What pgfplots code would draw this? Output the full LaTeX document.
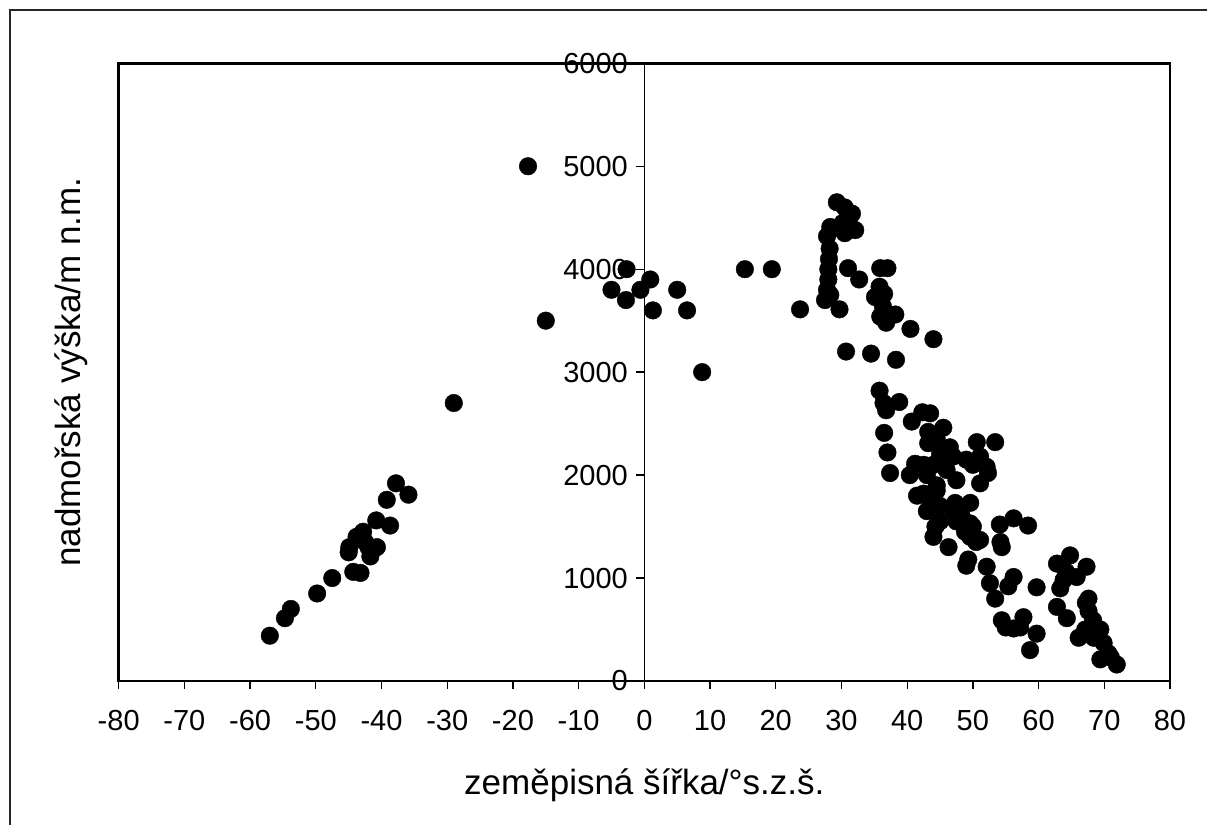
\documentclass[border=0pt]{standalone}
\usepackage{fontspec}
\setmainfont{Liberation Sans}
\usepackage{pgfplots}
\pgfplotsset{compat=1.18}
\newcommand\tlfont{\fontsize{29}{33}\selectfont}
\pgfplotstableread{
x y
-57 440
-54.7 610
-53.8 700
-49.8 850
-47.5 1000
-44.9 1300
-45 1250
-44.3 1060
-43.2 1050
-43.8 1400
-42.8 1450
-42.5 1350
-41.7 1210
-42 1300
-40.7 1300
-40.8 1560
-38.7 1510
-39.2 1760
-37.8 1920
-35.9 1810
-29 2700
-17.7 5000
-15 3500
-2.7 4000
-5 3800
-2.8 3700
-0.6 3800
0.9 3900
1.3 3600
5 3800
6.5 3600
8.8 3000
15.3 4000
19.4 4000
23.7 3610
29.3 4650
30.5 4600
31.6 4540
30.2 4450
31.2 4500
28.3 4410
32.1 4380
27.8 4320
30.5 4350
29 4400
28.2 4200
28.1 4100
28 4000
28 3900
27.8 3800
27.5 3700
28.3 3750
29.7 3610
31 4010
32.7 3900
35.9 4010
37 4010
35.8 3830
35.1 3730
36.3 3640
36.5 3760
37.3 3560
35.9 3540
36.8 3480
38.2 3560
40.5 3420
44 3320
30.7 3200
34.5 3180
38.3 3120
35.8 2820
36.4 2700
36.8 2630
38.8 2710
36.5 2410
37 2220
37.4 2020
40.7 2520
42.3 2610
43.5 2600
45.5 2460
43.2 2420
43.2 2310
44.5 2350
46.5 2270
47 2180
45 2200
41.2 2110
40.4 2000
50.6 2320
53.4 2320
51.1 2180
49 2150
52.1 2080
51.1 1920
52.3 2020
50 2100
47.5 1950
46 2050
44 2100
42.5 2100
43 2000
44.5 1900
41.5 1800
42.5 1820
44.5 1850
43 1650
43.5 1750
45 1700
47.3 1730
49.6 1730
44 1400
44.3 1500
45 1550
46.3 1300
47 1660
47.5 1550
48.3 1600
49.6 1530
50 1500
48.8 1450
49.6 1400
50.5 1350
51.1 1370
49.3 1180
49 1120
52.1 1110
52.6 950
53.4 800
54.4 1300
54.2 1350
54.1 1520
56.2 1580
58.4 1510
56.2 1010
55.4 920
54.4 590
56.2 510
55 520
57.7 620
57.2 520
59.7 910
59.7 460
58.7 300
62.8 1140
64.8 1220
67.3 1110
63.8 980
65.8 1010
63.3 900
64.2 1060
62.8 720
64.3 610
67.6 800
67.2 760
67.6 680
68.3 590
67.1 500
66.1 420
68.4 420
69.4 500
69.9 370
70.6 270
69.4 210
71.9 160
71 230
}\pts
\begin{document}
\begin{tikzpicture}
\useasboundingbox (0,0) rectangle (1207pt,825pt);
\draw[line width=1.3pt, black!85] (10pt,0pt) -- (10pt,815pt) -- (1207pt,815pt);
\begin{axis}[
  at={(118.7pt,144pt)}, anchor=south west, scale only axis,
  width=1051.3pt, height=617.7pt,
  xmin=-80, xmax=80, ymin=0, ymax=6000,
  xtick={-80,-70,...,80}, ytick=\empty,
  xticklabels={-80,-70,-60,-50,-40,-30,-20,-10,0,10,20,30,40,50,60,70,80},
  xtick pos=bottom, tick align=outside, major tick length=8pt,
  axis line style={line width=2.5pt},
  tick style={line width=1.3pt, black},
  xticklabel style={font=\tlfont, yshift=-18pt},
  xlabel={zeměpisná šířka/°s.z.š.},
  xlabel style={font=\fontsize{35}{40}\selectfont, at={(axis description cs:0.5,0)}, anchor=center, yshift=-104pt},
  ylabel={nadmořská výška/m n.m.},
  ylabel style={font=\fontsize{35}{40}\selectfont, at={([xshift=-47pt]axis description cs:0,0.5)}, anchor=center},
]
\addplot[only marks, mark=*, mark size=8.8pt, black] table[x=x,y=y] {\pts};
\end{axis}
\begin{axis}[
  at={(118.7pt,144pt)}, anchor=south west, scale only axis,
  width=1051.3pt, height=617.7pt,
  xmin=-80, xmax=80, ymin=0, ymax=6000,
  axis x line=none, axis y line=center,
  ytick={0,1000,...,6000},
  yticklabels={0,1000,2000,3000,4000,5000,6000},
  tick align=outside, major tick length=8pt,
  axis line style={-, line width=1.2pt},
  tick style={line width=1.3pt, black},
  yticklabel style={font=\tlfont, xshift=-5pt},
]
\end{axis}
\end{tikzpicture}
\end{document}
